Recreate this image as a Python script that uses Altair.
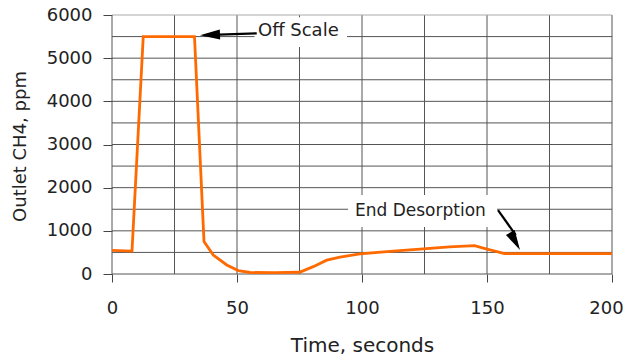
import altair as alt
import pandas as pd

# --- data ---
time_s = [0, 8, 12.5, 33, 36.8, 40.5, 45.9, 50.5, 55.2, 65, 75, 80.5, 85.9, 91.2,
          99.2, 112.5, 124.5, 135, 145, 148.5, 157, 200]
ch4_ppm = [545, 530, 5500, 5500, 750, 440, 210, 80, 35, 30, 40, 170, 320, 390,
           465, 530, 580, 630, 655, 600, 470, 470]

x_ticks = [0, 50, 100, 150, 200]
y_ticks = [0, 1000, 2000, 3000, 4000, 5000, 6000]
x_grid = [0, 25, 50, 75, 100, 125, 150, 175, 200]
y_grid = [0, 500, 1000, 1500, 2000, 2500, 3000, 3500, 4000, 4500, 5000, 5500, 6000]

# annotations
ann_text = ["Off Scale", "End Desorption"]
ann_t = [58.4, 97.2]
ann_v = [5629, 1470]
ann_size = [18, 17]
bg_t1 = [57, 94.4]
bg_t2 = [94, 154]
bg_v1 = [5260, 1090]
bg_v2 = [5950, 1830]
arrow_t1 = [57.9, 154.4]
arrow_v1 = [5576, 1482]
arrow_t2 = [37.0, 161.5]
arrow_v2 = [5535, 900]
head_t = [35.2, 163.2]
head_v = [5532, 556]
head_angle = [268, 151]

FONT = "DejaVu Sans"
xs = alt.Scale(domain=[0, 200], nice=False)
ys = alt.Scale(domain=[0, 6000], nice=False)

line_df = pd.DataFrame({"t": time_s, "v": ch4_ppm})
xg_df = pd.DataFrame({"t": x_grid})
yg_df = pd.DataFrame({"v": y_grid})
ann_df = pd.DataFrame({"label": ann_text, "t": ann_t, "v": ann_v, "fs": ann_size})
bg_df = pd.DataFrame({"t1": bg_t1, "t2": bg_t2, "v1": bg_v1, "v2": bg_v2})
arr_df = pd.DataFrame({"t1": arrow_t1, "v1": arrow_v1, "t2": arrow_t2, "v2": arrow_v2})
head_df = pd.DataFrame({"t": head_t, "v": head_v, "ang": head_angle})

x_axis = alt.Axis(values=x_ticks, grid=False, domain=False, tickSize=8, tickColor="#444",
                  labelFont=FONT, labelFontSize=18, labelColor="#222", labelPadding=17,
                  labelFlush=False, format="d",
                  labelOffset=alt.ExprRef("datum.value == 200 ? -6 : 0"),
                  title="Time, seconds", titleFont=FONT,
                  titleFontSize=20, titleFontWeight="normal", titleColor="#222",
                  titleBaseline="alphabetic", titleY=77)
y_axis = alt.Axis(values=y_ticks, grid=False, domain=False, tickSize=9, tickColor="#444",
                  labelFont=FONT, labelFontSize=18, labelColor="#222", labelPadding=11,
                  format="d", title="Outlet CH4, ppm", titleFont=FONT, titleFontSize=18,
                  titleFontWeight="normal", titleColor="#222", titleBaseline="alphabetic",
                  titleX=-87, titleY=131)

base_axes = alt.Chart(line_df).mark_line(opacity=0).encode(
    x=alt.X("t:Q", scale=xs, axis=x_axis),
    y=alt.Y("v:Q", scale=ys, axis=y_axis),
)

xgrid = alt.Chart(xg_df).mark_rule(strokeWidth=1).encode(
    x=alt.X("t:Q", scale=xs), color=alt.value("#555"))
ygrid = alt.Chart(yg_df).mark_rule(strokeWidth=1).encode(
    y=alt.Y("v:Q", scale=ys),
    color=alt.condition(alt.datum.v == 6000, alt.value("#aaa"), alt.value("#555")))

bg = alt.Chart(bg_df).mark_rect(color="white").encode(
    x=alt.X("t1:Q", scale=xs), x2="t2:Q",
    y=alt.Y("v1:Q", scale=ys), y2="v2:Q")

line = alt.Chart(line_df).mark_line(color="#ff6a00", strokeWidth=2.8).encode(
    x=alt.X("t:Q", scale=xs), y=alt.Y("v:Q", scale=ys))

shafts = alt.Chart(arr_df).mark_rule(color="black", strokeWidth=2.2).encode(
    x=alt.X("t1:Q", scale=xs), x2="t2:Q",
    y=alt.Y("v1:Q", scale=ys), y2="v2:Q")

heads = alt.Chart(head_df).mark_point(
    shape="M0,0 L0.25,1 L-0.25,1 Z", filled=True, color="black", opacity=1,
    size=1600, strokeWidth=0).encode(
    x=alt.X("t:Q", scale=xs), y=alt.Y("v:Q", scale=ys), angle=alt.Angle("ang:Q", scale=None))

texts = alt.Chart(ann_df).mark_text(align="left", baseline="middle", font=FONT,
                                     color="#222").encode(
    x=alt.X("t:Q", scale=xs), y=alt.Y("v:Q", scale=ys), text="label:N",
    size=alt.Size("fs:Q", scale=None, legend=None))

chart = alt.layer(base_axes, xgrid, ygrid, bg, line, shafts, heads, texts).properties(
    width=500, height=259,
    autosize=alt.AutoSizeParams(type="none"),
    padding={"left": 104, "top": 7, "right": 12, "bottom": 82},
    background="white",
).configure_view(stroke=None)

chart.save("out.html", embed_options={"renderer": "svg", "actions": False})
